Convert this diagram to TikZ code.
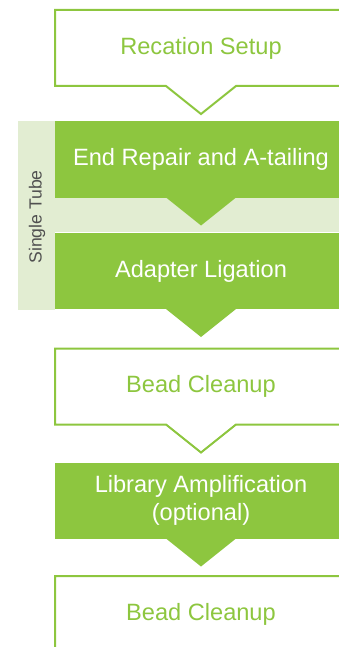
\documentclass[tikz,border=0pt]{standalone}
\usepackage{fontspec}
\setmainfont{Liberation Sans}
\definecolor{lgreen}{HTML}{8DC63F}
\definecolor{band}{HTML}{E2EDD2}
\definecolor{bandtext}{HTML}{505050}
\begin{document}
\begin{tikzpicture}[x=1pt,y=-1pt,
  boxbase/.style={minimum width=292pt,minimum height=76pt,inner sep=0pt,outer sep=0pt,
    align=center,font=\fontsize{23.6}{28}\selectfont},
  outbox/.style={boxbase,text=lgreen},
  fillbox/.style={boxbase,fill=lgreen,text=white},
  outline/.style={draw=lgreen,line width=2pt,line join=miter},
  tip/.style={fill=lgreen}]
\useasboundingbox (0,0) rectangle (339,647);
\clip (0,0) rectangle (339,647);
% single tube band
\fill[band] (18,121) rectangle (55,310);
\fill[band] (55,198) rectangle (347,232);
\node[rotate=90,text=bandtext,font=\fontsize{17.6}{20}\selectfont] (st) at (37,217) {Single Tube};
% boxes
\node[outbox]  (b1) at (201,48)  {Recation Setup};
\node[fillbox] (b2) at (201,159.5) {End Repair and A-tailing};
\node[fillbox] (b3) at (201,271) {Adapter Ligation};
\node[outbox]  (b4) at (201,386.5) {Bead Cleanup};
\node[fillbox] (b5) at (201,500.5) {Library Amplification\\(optional)};
\node[outbox]  (b6) at (201,614) {Bead Cleanup};
% outline boxes with notched arrows
\foreach \n in {b1,b4,b6}{
  \draw[outline] (\n.south west) -- (\n.north west) -- (\n.north east) -- (\n.south east)
    -- ([xshift=35pt]\n.south) -- ([yshift=-28pt]\n.south) -- ([xshift=-35pt]\n.south) -- cycle;
}
% filled arrow tips
\foreach \n in {b2,b3,b5}{
  \fill[tip] ([xshift=-35pt]\n.south) -- ([yshift=-28pt]\n.south) -- ([xshift=35pt]\n.south) -- cycle;
}
\end{tikzpicture}
\end{document}
